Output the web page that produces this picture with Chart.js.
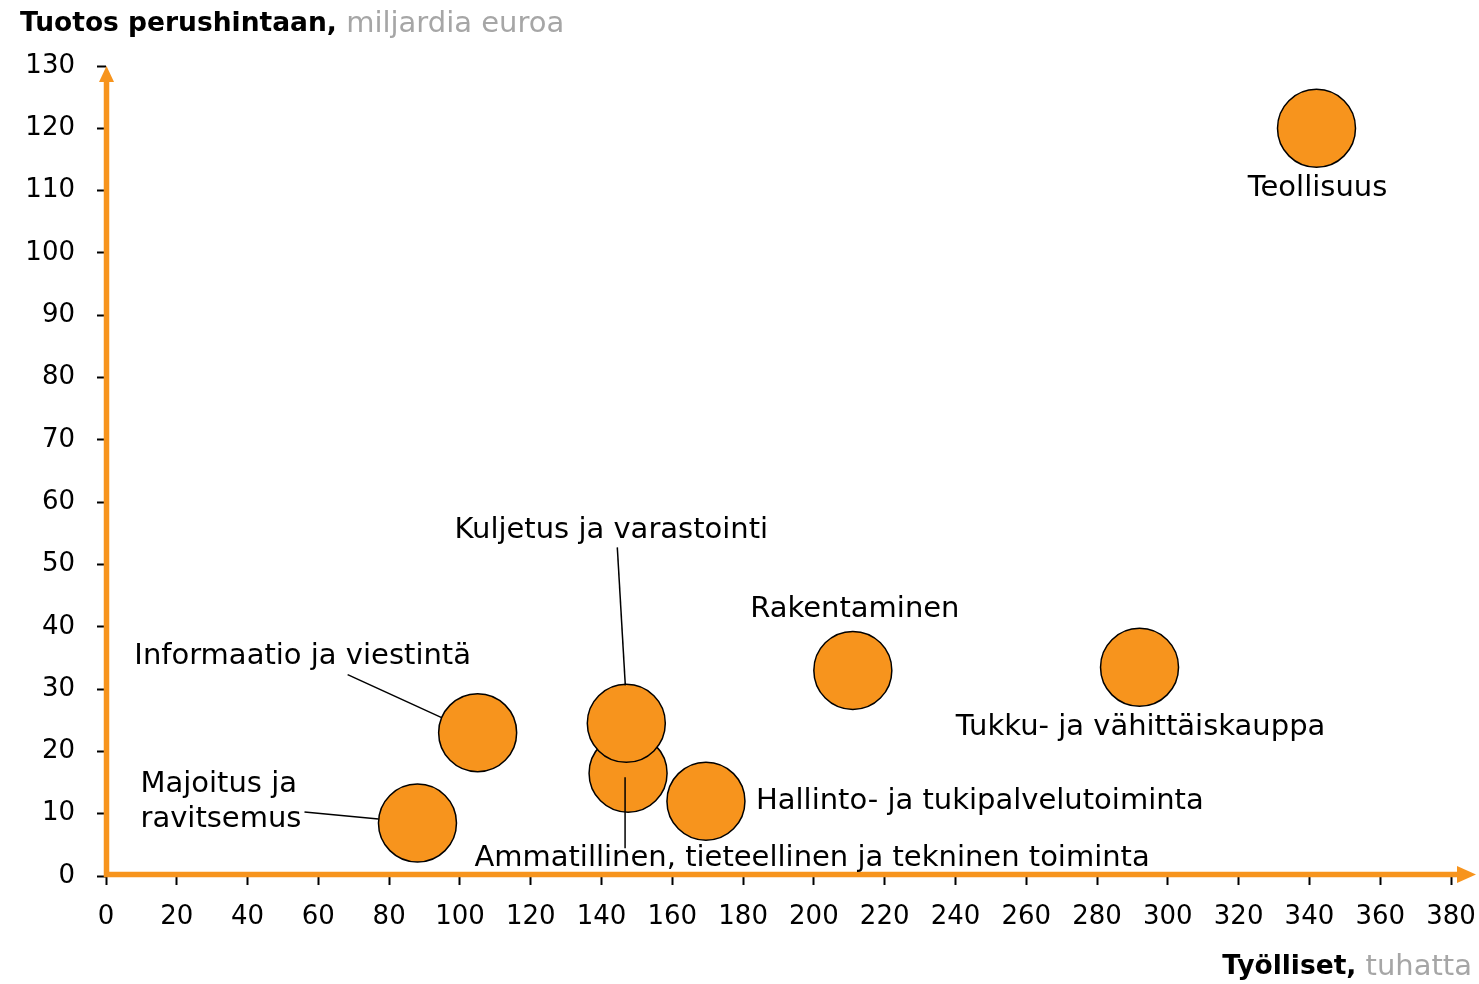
<!DOCTYPE html>
<html>
<head>
<meta charset="utf-8">
<script src="https://cdn.jsdelivr.net/npm/chart.js@4"></script>
<style>html,body{margin:0;padding:0;background:#fff}</style>
</head>
<body>
<canvas id="chart" width="1479" height="984"></canvas>
<script>
// toimialat, työlliset (tuhatta) ja tuotos perushintaan (mrd euroa)
const sectors = [
    'Teollisuus',
    'Tukku- ja vähittäiskauppa',
    'Rakentaminen',
    'Hallinto- ja tukipalvelutoiminta',
    'Ammatillinen, tieteellinen ja tekninen toiminta',
    'Kuljetus ja varastointi',
    'Informaatio ja viestintä',
    'Majoitus ja\nravitsemus'
];
const employed = [342, 292, 211, 169.5, 147.5, 147, 105, 88];
const output = [120, 33.5, 33, 12, 16.5, 24.5, 23, 8.5];

const xTicks = [0, 20, 40, 60, 80, 100, 120, 140, 160, 180, 200, 220, 240, 260, 280, 300, 320, 340, 360, 380];
const yTicks = [0, 10, 20, 30, 40, 50, 60, 70, 80, 90, 100, 110, 120, 130];

const yTitle = ['Tuotos perushintaan,', ' miljardia euroa'];
const xTitle = ['Työlliset,', ' tuhatta'];

const orange = '#F7941D';
const grey = '#a6a6a6';
const fontFamily = "'DejaVu Sans', sans-serif";
const tickSize = 26;
const labelSize = 29;
const boldSize = 26.5;

// tekstien paikat pikseleinä suhteessa pallon keskipisteeseen
const labelLayout = [
    { dx: 1, dy: 60, align: 'center' },
    { dx: 1, dy: 60, align: 'center' },
    { dx: 2, dy: -61, align: 'center' },
    { dx: 50, dy: 0, align: 'left' },
    { dx: 184, dy: 85, align: 'center', line: [-3, 4, -3, 75] },
    { dx: -15, dy: -193, align: 'center', line: [-9, -176, -1, -38] },
    { dx: -175, dy: -76, align: 'center', line: [-130, -58, -36, -15] },
    { dx: -277, dy: -39, align: 'left', line: [-113, -11, -39, -4] }
];

const points = employed.map((v, i) => ({ x: v, y: output[i] }));

const decorations = {
    id: 'decorations',
    afterDatasetsDraw(chart) {
        const ctx = chart.ctx;
        const xs = chart.scales.x;
        const ys = chart.scales.y;
        const x0 = xs.getPixelForValue(0) + 0.5;
        const y0 = ys.getPixelForValue(0) - 1.5;
        const yTop = ys.getPixelForValue(130);
        ctx.save();

        // akselit nuolineen
        ctx.strokeStyle = orange;
        ctx.fillStyle = orange;
        ctx.lineWidth = 5.5;
        ctx.beginPath();
        ctx.moveTo(x0, y0 + 2.5);
        ctx.lineTo(x0, yTop + 14);
        ctx.moveTo(x0 - 2.5, y0);
        ctx.lineTo(1460, y0);
        ctx.stroke();
        ctx.beginPath();
        ctx.moveTo(x0, yTop);
        ctx.lineTo(x0 - 7.5, yTop + 16);
        ctx.lineTo(x0 + 7.5, yTop + 16);
        ctx.closePath();
        ctx.fill();
        ctx.beginPath();
        ctx.moveTo(1476, y0);
        ctx.lineTo(1457, y0 - 8.5);
        ctx.lineTo(1457, y0 + 8.5);
        ctx.closePath();
        ctx.fill();

        // selitetekstit ja viivat
        const meta = chart.getDatasetMeta(0);
        ctx.font = labelSize + 'px ' + fontFamily;
        ctx.textBaseline = 'middle';
        ctx.strokeStyle = '#000';
        ctx.lineWidth = 1.5;
        meta.data.forEach((pt, i) => {
            const l = labelLayout[i];
            if (l.line) {
                ctx.beginPath();
                ctx.moveTo(pt.x + l.line[0], pt.y + l.line[1]);
                ctx.lineTo(pt.x + l.line[2], pt.y + l.line[3]);
                ctx.stroke();
            }
            ctx.fillStyle = '#000';
            ctx.textAlign = l.align;
            sectors[i].split('\n').forEach((t, k) => {
                ctx.fillText(t, pt.x + l.dx, pt.y + l.dy + k * 35);
            });
        });

        // akselien otsikot
        ctx.textAlign = 'left';
        ctx.font = 'bold ' + boldSize + 'px ' + fontFamily;
        ctx.fillStyle = '#000';
        ctx.fillText(yTitle[0], 20, 24);
        const w = ctx.measureText(yTitle[0]).width;
        ctx.font = labelSize + 'px ' + fontFamily;
        ctx.fillStyle = grey;
        ctx.fillText(yTitle[1], 20 + w, 24);

        ctx.textAlign = 'right';
        ctx.fillText(xTitle[1], 1472, 967);
        const w2 = ctx.measureText(xTitle[1]).width;
        ctx.font = 'bold ' + boldSize + 'px ' + fontFamily;
        ctx.fillStyle = '#000';
        ctx.fillText(xTitle[0], 1472 - w2, 967);
        ctx.restore();
    }
};

const axisCommon = {
    type: 'linear',
    grid: { display: true, drawOnChartArea: false, drawTicks: true, tickLength: 9, tickColor: '#000', tickWidth: 2 },
    border: { display: true, color: '#d9d9d9', width: 1 }
};

new Chart(document.getElementById('chart').getContext('2d'), {
    type: 'bubble',
    data: {
        datasets: [{
            data: points,
            radius: 39,
            backgroundColor: orange,
            borderColor: '#000',
            borderWidth: 1.5,
            hoverRadius: 0
        }]
    },
    options: {
        responsive: false,
        animation: false,
        // pallojen automaattinen reunus pois, muuten oikea reuna kapenee
        layout: { autoPadding: false, padding: { top: 66, right: 28, left: 0, bottom: 0 } },
        plugins: { legend: { display: false }, tooltip: { enabled: false } },
        scales: {
            x: {
                ...axisCommon,
                min: 0, max: 380,
                afterBuildTicks: s => { s.ticks = xTicks.map(v => ({ value: v })); },
                afterFit: s => { s.height = 108; },
                ticks: { color: '#000', font: { family: fontFamily, size: tickSize, lineHeight: '64px' }, padding: 0, maxRotation: 0, autoSkip: false }
            },
            y: {
                ...axisCommon,
                min: 0, max: 130,
                afterBuildTicks: s => { s.ticks = yTicks.map(v => ({ value: v })); },
                afterFit: s => { s.width = 106; },
                ticks: { color: '#000', font: { family: fontFamily, size: tickSize }, padding: 22, autoSkip: false }
            }
        }
    },
    plugins: [decorations]
});
</script>
</body>
</html>
